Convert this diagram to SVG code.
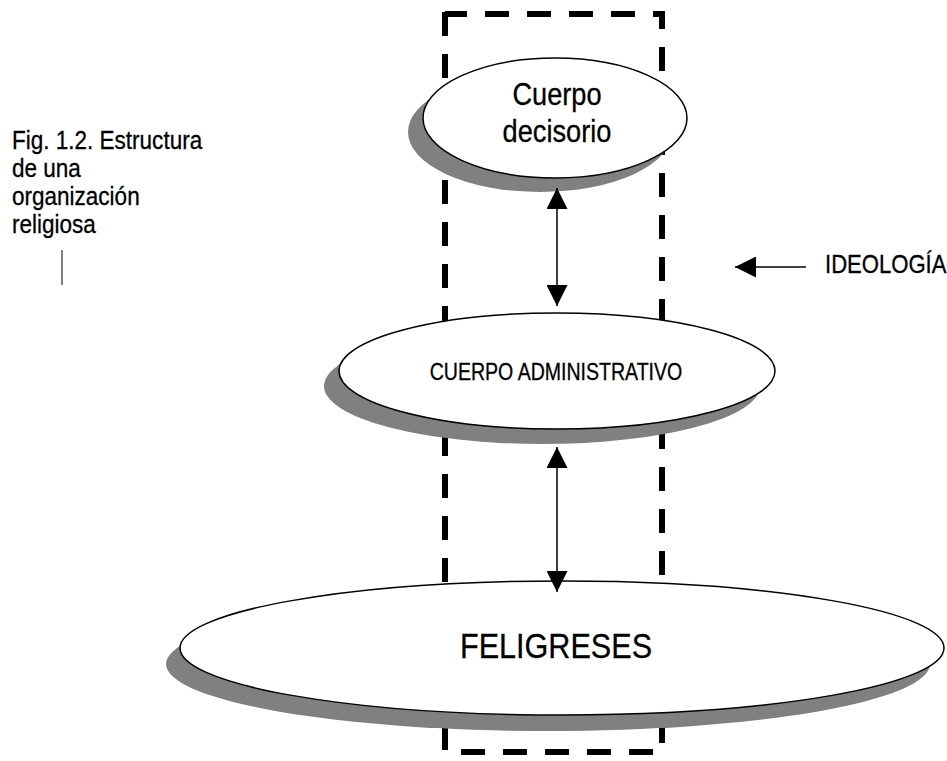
<svg xmlns="http://www.w3.org/2000/svg" width="947" height="761" viewBox="0 0 947 761">
<defs>
<style>
.t{font-family:"Liberation Sans",Arial,sans-serif;fill:#000;stroke:#000;stroke-width:0.3}
.sh{fill:#808080}
.el{fill:#fff;stroke:#000;stroke-width:1.5}
.ar{stroke:#000;stroke-width:1.5;fill:none}
</style>
<marker id="ah" viewBox="0 0 10 10" refX="10" refY="5" markerWidth="21" markerHeight="21" markerUnits="userSpaceOnUse" orient="auto-start-reverse"><path d="M0,0 L10,5 L0,10 Z" fill="#000"/></marker>
</defs>
<rect width="947" height="761" fill="#fff"/>
<g id="ideologia-box">
<path d="M445,12 V752 H662 V14 H445" fill="none" stroke="#000" stroke-width="6" stroke-dasharray="24 18"/>
</g>
<g id="cuerpo-decisorio">
<ellipse class="sh" cx="540" cy="132" rx="132" ry="60"/>
<ellipse class="el" cx="555" cy="118" rx="132" ry="60"/>
<g transform="translate(557 0) scale(0.85 1)">
<text class="t" x="0" y="105" font-size="32" text-anchor="middle">Cuerpo</text>
<text class="t" x="0" y="142" font-size="32" text-anchor="middle">decisorio</text>
</g>
</g>
<g id="cuerpo-administrativo">
<ellipse class="sh" cx="542" cy="386" rx="218" ry="58"/>
<ellipse class="el" cx="557" cy="371" rx="218" ry="58"/>
<text class="t" x="0" y="380" font-size="23" text-anchor="middle" transform="translate(556 0) scale(0.85 1)">CUERPO ADMINISTRATIVO</text>
</g>
<g id="feligreses">
<ellipse class="sh" cx="548" cy="664" rx="382" ry="67"/>
<ellipse class="el" cx="562" cy="648" rx="382" ry="67"/>
<text class="t" x="0" y="658" font-size="36" text-anchor="middle" transform="translate(556 0) scale(0.85 1)">FELIGRESES</text>
</g>
<g id="caption">
<text class="t" font-size="26.5" transform="translate(12 0) scale(0.85 1)"><tspan x="0" y="149">Fig. 1.2. Estructura</tspan><tspan x="0" y="177">de una</tspan><tspan x="0" y="205">organización</tspan><tspan x="0" y="233">religiosa</tspan></text>
<line x1="62" y1="250" x2="62" y2="285" stroke="#000" stroke-width="1"/>
</g>
<g id="ideologia-label">
<text class="t" x="0" y="273" font-size="26" transform="translate(825 0) scale(0.85 1)">IDEOLOGÍA</text>
</g>
<g id="connectors">
<line class="ar" x1="557" y1="188" x2="557" y2="306" marker-start="url(#ah)" marker-end="url(#ah)"/>
<line class="ar" x1="557" y1="447" x2="557" y2="592" marker-start="url(#ah)" marker-end="url(#ah)"/>
<line class="ar" x1="806" y1="267" x2="735" y2="267" marker-end="url(#ah)"/>
</g>
</svg>
